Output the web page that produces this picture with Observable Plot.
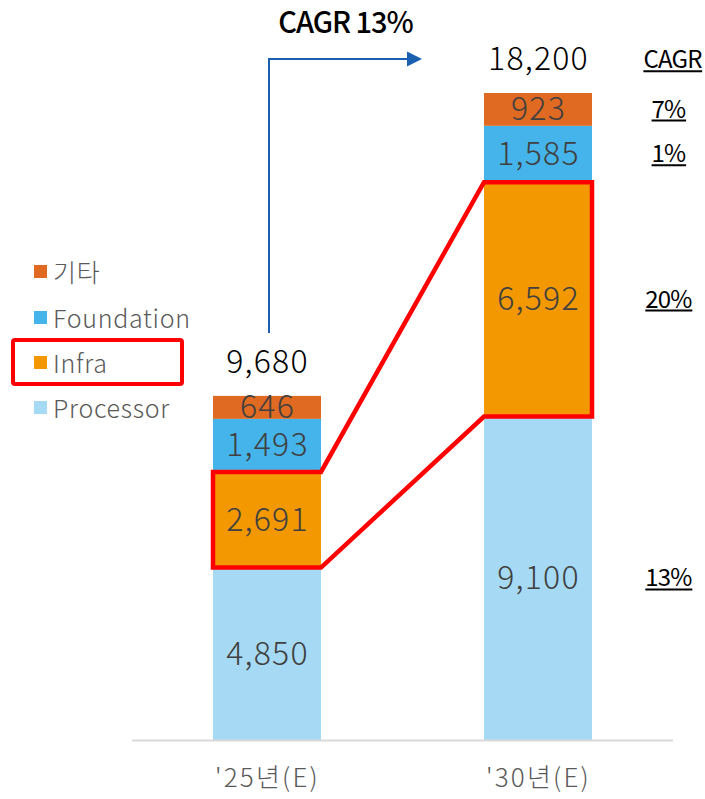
<!DOCTYPE html>
<html>
<head>
<meta charset="utf-8">
<script src="https://cdn.jsdelivr.net/npm/d3@7"></script>
<script src="https://cdn.jsdelivr.net/npm/@observablehq/plot@0.6"></script>
<style>
  body { margin: 0; background: #fff; font-family: "Noto Sans CJK KR", "Noto Sans", sans-serif; }
  #wrap { position: relative; width: 705px; height: 799px; }
  #legend { position: absolute; left: 0; top: 0; }
  .item { position: absolute; left: 34px; height: 45px; display: flex; align-items: center;
          font-size: 25px; font-weight: 300; letter-spacing: 0.7px; color: #595959; white-space: nowrap; }
  .sw { width: 13px; height: 13px; margin-right: 6px; }
  .hl { position: absolute; left: 11px; width: 173px; height: 48px; box-sizing: border-box;
        border: 4px solid #ff0000; border-radius: 4px; }
  svg text { font-weight: 300; }
</style>
</head>
<body>
<div id="wrap"><div id="legend"></div></div>
<script>
// Market size by segment, 2025E vs 2030E
const periods = ["'25년(E)", "'30년(E)"];
const series = ["Processor", "Infra", "Foundation", "기타"];
const processor = [4850, 9100];
const infra = [2691, 6592];
const foundation = [1493, 1585];
const other = [646, 923];
const totals = [9680, 18200];
// CAGR per segment, same order as series
const segmentCagr = ["13%", "20%", "1%", "7%"];
const totalCagr = "CAGR 13%";
const cagrHeader = "CAGR";
const colors = ["#A6DAF4", "#F39800", "#45B4EA", "#E06A22"];
const highlighted = "Infra";

const valuesBySeries = [processor, infra, foundation, other];
const rows = [];
series.forEach((s, i) => periods.forEach((p, j) => rows.push({period: p, series: s, value: valuesBySeries[i][j], cagr: segmentCagr[i]})));
const totalRows = periods.map((p, j) => ({period: p, total: totals[j]}));
const fmt = d3.format(",");
const font = '"Noto Sans CJK KR", "Noto Sans", sans-serif';

// Highlight outline around the Infra segments plus the overall growth arrow
function annotations(index, scales) {
  const x = scales.x, y = scales.y;
  const bw = x.bandwidth();
  const x0L = x(periods[0]), x0R = x0L + bw;
  const x1L = x(periods[1]), x1R = x1L + bw;
  const bot0 = y(processor[0]), top0 = y(processor[0] + infra[0]);
  const bot1 = y(processor[1]), top1 = y(processor[1] + infra[1]);
  const g = d3.create("svg:g");
  g.append("path")
    .attr("d", d3.line()([[x0L, top0], [x0R, top0], [x1L, top1], [x1R, top1], [x1R, bot1], [x1L, bot1], [x0R, bot0], [x0L, bot0]]) + "Z")
    .attr("fill", "none").attr("stroke", "#ff0000").attr("stroke-width", 4.5).attr("stroke-linejoin", "miter");

  const xa = x0L + bw / 2 + 2;
  const ya0 = y(totals[0]) - 63;
  const ya1 = y(totals[1]) - 34;
  const xe = x1L - 62;
  const blue = "#1A5FB0";
  g.append("path")
    .attr("d", `M${xa},${ya0}V${ya1}H${xe - 14}`)
    .attr("fill", "none").attr("stroke", blue).attr("stroke-width", 2);
  g.append("path")
    .attr("d", `M${xe},${ya1}L${xe - 15},${ya1 - 7.5}L${xe - 15},${ya1 + 7.5}Z`)
    .attr("fill", blue);
  g.append("text")
    .attr("x", (xa + xe) / 2).attr("y", ya1 - 36)
    .attr("text-anchor", "middle").attr("dy", "0.35em")
    .attr("font-size", 29).attr("fill", "#000")
    .style("font-weight", 500)
    .attr("letter-spacing", -1)
    .text(totalCagr);
  return g.node();
}

const chart = Plot.plot({
  width: 705,
  height: 799,
  marginLeft: 132,
  marginRight: 32,
  marginTop: 93,
  marginBottom: 59,
  style: {fontFamily: font, background: "#fff", overflow: "visible"},
  x: {domain: periods, paddingInner: 0.603, paddingOuter: 0.296, axis: null},
  y: {domain: [0, d3.max(totals)], axis: null},
  color: {domain: series, range: colors},
  marks: [
    Plot.barY(rows, {x: "period", y: "value", fill: "series", order: series}),
    Plot.ruleY([0], {stroke: "#d9d9d9", strokeWidth: 2}),
    Plot.text(rows, Plot.stackY({
      x: "period", y: "value", z: "series", order: series,
      text: d => fmt(d.value), fill: "#404040", fontSize: 32
    })),
    Plot.text(totalRows, {x: "period", y: "total", text: d => fmt(d.total), dy: -34, fontSize: 32, fill: "#000"}),
    Plot.text(periods, {x: d => d, y: () => 0, text: d => d, dy: 38, fontSize: 26, fill: "#595959"}),
    Plot.text(rows.filter(d => d.period === periods[1]), Plot.stackY({
      x: "period", y: "value", z: "series", order: series,
      text: "cagr", dx: 130, fontSize: 24, fill: "#000"
    })),
    Plot.text([totals[1]], {x: () => periods[1], y: d => d, text: [cagrHeader], dx: 134, dy: -33,
      fontSize: 24, fill: "#000"}),
    annotations
  ]
});

document.getElementById("wrap").prepend(chart);

// Typographic adjustments, matched by label text
const svg = d3.select(chart);
const numberLabels = new Set([...rows.map(d => fmt(d.value)), ...totals.map(fmt)]);
const cagrLabels = new Set([...segmentCagr, cagrHeader]);
const periodLabels = new Set(periods);
const texts = svg.selectAll("text");
texts.filter(function () { return numberLabels.has(this.textContent); }).attr("letter-spacing", 1.2);
texts.filter(function () { return periodLabels.has(this.textContent); }).attr("letter-spacing", 2.2);
const cagrTexts = texts.filter(function () { return cagrLabels.has(this.textContent); })
  .style("font-weight", 400)
  .attr("letter-spacing", -0.8);
// underline the CAGR column, in each label's own coordinate frame
cagrTexts.each(function () {
  const b = this.getBBox();
  const yLine = b.y + b.height * 0.801 + 3;
  d3.select(this.parentNode).append("line")
    .attr("transform", this.getAttribute("transform"))
    .attr("x1", b.x).attr("x2", b.x + b.width)
    .attr("y1", yLine).attr("y2", yLine)
    .attr("stroke", "#000").attr("stroke-width", 2);
});

// Legend, top segment first
const legend = document.getElementById("legend");
const centers = [271, 317, 362, 407];
series.slice().reverse().forEach((s, k) => {
  const item = document.createElement("div");
  item.className = "item";
  item.style.top = (centers[k] - 22.5) + "px";
  const sw = document.createElement("span");
  sw.className = "sw";
  sw.style.background = colors[series.indexOf(s)];
  const label = document.createElement("span");
  label.textContent = s;
  item.append(sw, label);
  legend.append(item);
  if (s === highlighted) {
    const box = document.createElement("div");
    box.className = "hl";
    box.style.top = (centers[k] - 24) + "px";
    legend.append(box);
  }
});
</script>
</body>
</html>
